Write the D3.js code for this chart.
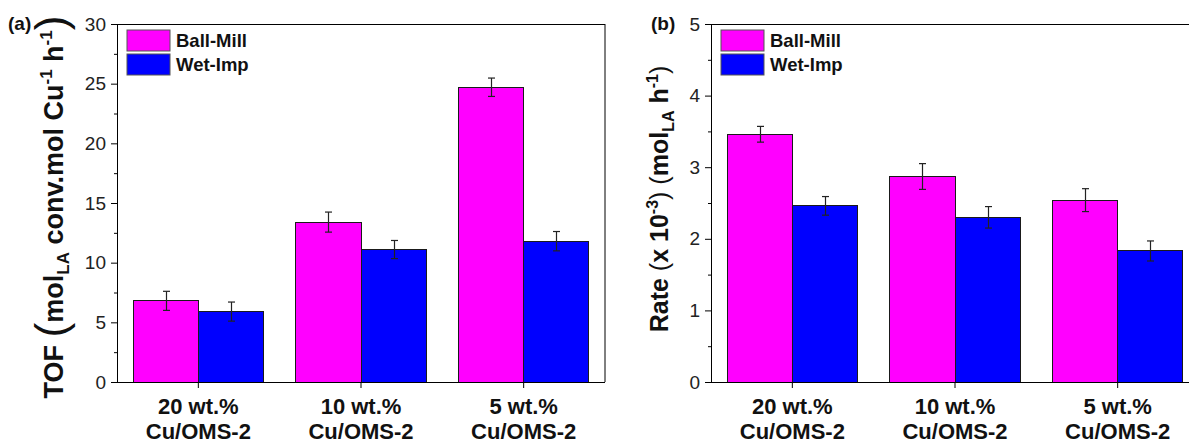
<!DOCTYPE html>
<html>
<head>
<meta charset="utf-8">
<script src="https://cdn.jsdelivr.net/npm/d3@7"></script>
<style>
  body { margin: 0; background: #fff; }
  svg { font-family: Arial, "Liberation Sans", sans-serif; }
</style>
</head>
<body>
<div class="container"></div>
<script>
const WIDTH = 1189;
const HEIGHT = 443;
const TOP = 24;
const INNER_HEIGHT = 358;
const INNER_WIDTH = 488;

// data
var categories = ['20 wt.%|Cu/OMS-2', '10 wt.%|Cu/OMS-2', '5 wt.%|Cu/OMS-2'];
var seriesNames = ['Ball-Mill', 'Wet-Imp'];
var seriesColors = ['#ff00ff', '#0000ff'];

var tofBall = [6.8, 13.4, 24.7];
var tofBallErr = [0.8, 0.84, 0.77];
var tofWet = [5.9, 11.1, 11.8];
var tofWetErr = [0.8, 0.76, 0.81];
var tofTicks = [0, 5, 10, 15, 20, 25, 30];

var rateBall = [3.46, 2.87, 2.54];
var rateBallErr = [0.11, 0.18, 0.16];
var rateWet = [2.46, 2.30, 1.83];
var rateWetErr = [0.13, 0.15, 0.14];
var rateTicks = [0, 1, 2, 3, 4, 5];

var _svg = d3.select('.container').append('svg')
    .attr('width', WIDTH).attr('height', HEIGHT);

var drawPanel = function (left, ticks, values, errors, label, labelX, titleParts, titleSize, titleX, titleY) {
    var yMax = ticks[ticks.length - 1];
    var x = d3.scaleBand().domain(categories).range([0, INNER_WIDTH])
        .paddingInner(0.2).paddingOuter(0.1);
    var xs = d3.scaleBand().domain(seriesNames).range([0, x.bandwidth()]);
    var y = d3.scaleLinear().domain([0, yMax]).range([INNER_HEIGHT, 0]);

    var g = _svg.append('g').attr('transform', 'translate(' + left + ',' + TOP + ')');

    // bars
    seriesNames.forEach(function (s, si) {
        g.selectAll('.bar' + si)
            .data(values[si])
            .enter().append('rect')
            .attr('x', function (d, i) { return x(categories[i]) + xs(s); })
            .attr('y', function (d) { return y(d); })
            .attr('width', xs.bandwidth())
            .attr('height', function (d) { return INNER_HEIGHT - y(d); })
            .attr('fill', seriesColors[si])
            .attr('stroke', '#1a1a1a')
            .attr('stroke-width', 1)
            .attr('shape-rendering', 'crispEdges');
    });

    // error bars
    seriesNames.forEach(function (s, si) {
        values[si].forEach(function (v, i) {
            var cx = Math.round(x(categories[i]) + xs(s) + xs.bandwidth() / 2) + 0.5;
            var e = errors[si][i];
            var eg = g.append('g').attr('stroke', '#222').attr('stroke-width', 1.2);
            eg.append('line').attr('x1', cx).attr('x2', cx).attr('y1', y(v + e)).attr('y2', y(v - e));
            [v + e, v - e].forEach(function (w) {
                eg.append('line').attr('x1', cx - 3.5).attr('x2', cx + 3.5).attr('y1', y(w)).attr('y2', y(w));
            });
        });
    });

    // y axis, major and minor ticks
    var yAxis = g.append('g').call(d3.axisLeft(y).tickValues(ticks).tickSize(6).tickPadding(5)
        .tickFormat(d3.format('d')));
    yAxis.selectAll('text').attr('font-size', 19).attr('fill', '#222');
    var minor = ticks.slice(1).map(function (t, i) { return (t + ticks[i]) / 2; });
    g.append('g').call(d3.axisLeft(y).tickValues(minor).tickSize(3).tickFormat(''))
        .select('.domain').remove();

    // x axis
    var xAxis = g.append('g').attr('transform', 'translate(0,' + INNER_HEIGHT + ')')
        .call(d3.axisBottom(x).tickSize(6).tickFormat(''));
    xAxis.select('.domain').attr('d', 'M0,0.5H' + INNER_WIDTH);
    categories.forEach(function (c) {
        var parts = c.split('|');
        var cx = x(c) + x.bandwidth() / 2;
        parts.forEach(function (p, j) {
            g.append('text').attr('x', cx).attr('y', INNER_HEIGHT + 32 + j * 25)
                .attr('text-anchor', 'middle').attr('font-size', 22).attr('font-weight', 'bold')
                .attr('fill', '#111').text(p);
        });
    });

    // frame
    g.append('line').attr('x1', 0).attr('x2', INNER_WIDTH).attr('y1', 0.5).attr('y2', 0.5).attr('stroke', '#000');
    g.append('line').attr('x1', INNER_WIDTH).attr('x2', INNER_WIDTH).attr('y1', 0).attr('y2', INNER_HEIGHT).attr('stroke', '#000');

    // legend
    seriesNames.forEach(function (s, si) {
        g.append('rect').attr('x', 10).attr('y', 6 + si * 24).attr('width', 43).attr('height', 21)
            .attr('fill', seriesColors[si]).attr('stroke', '#555').attr('stroke-width', 1);
        g.append('text').attr('x', 59).attr('y', 23 + si * 24).attr('font-size', 18.5)
            .attr('font-weight', 'bold').attr('fill', '#111').text(s);
    });

    // panel label
    _svg.append('text').attr('x', labelX).attr('y', 30).attr('font-size', 19)
        .attr('font-weight', 'bold').attr('fill', '#111').text(label);

    // axis title
    var t = _svg.append('text')
        .attr('transform', 'translate(' + titleX + ',' + titleY + ') rotate(-90)')
        .attr('text-anchor', 'middle').attr('font-size', titleSize).attr('font-weight', 'bold').attr('fill', '#111');
    titleParts.forEach(function (p) {
        var ts = t.append('tspan').text(p.text);
        if (p.size) ts.attr('font-size', p.size);
        if (p.weight) ts.attr('font-weight', p.weight);
        if (p.dy) ts.attr('dy', p.dy);
    });
};

window.onload = function () {
    drawPanel(117, tofTicks, [tofBall, tofWet], [tofBallErr, tofWetErr], '(a)', 8, [
        {text: 'TOF '},
        {text: '(', size: 44, weight: 'normal', dy: 3},
        {text: 'mol', dy: -3},
        {text: 'LA', size: 17, dy: 6},
        {text: ' conv.mol Cu', dy: -6},
        {text: '-1', size: 17, dy: -11},
        {text: ' h', dy: 11},
        {text: '-1', size: 17, dy: -11},
        {text: ')', size: 44, weight: 'normal', dy: 14}
    ], 27, 63, 207);

    drawPanel(711, rateTicks, [rateBall, rateWet], [rateBallErr, rateWetErr], '(b)', 651, [
        {text: 'Rate '},
        {text: '(', weight: 'normal'},
        {text: 'x 10'},
        {text: '-3', size: 16, dy: -10},
        {text: ')', weight: 'normal', dy: 10},
        {text: ' (', weight: 'normal'},
        {text: 'mol'},
        {text: 'LA', size: 16, dy: 6},
        {text: ' h', dy: -6},
        {text: '-1', size: 16, dy: -10},
        {text: ')', weight: 'normal', dy: 10}
    ], 25, 668, 199);
};
</script>
</body>
</html>
